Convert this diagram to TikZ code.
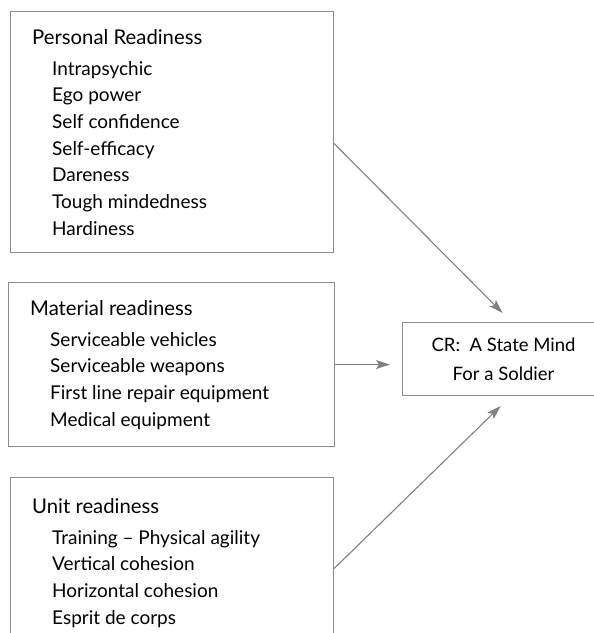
\documentclass[tikz,border=0pt]{standalone}
\usepackage{fontspec}
\setmainfont{Lato}
\usetikzlibrary{arrows.meta, positioning}

\begin{document}
\begin{tikzpicture}[
    x=1pt, y=-1pt,
    every node/.style={text=black},
    box/.style={draw=black!45, line width=1.1pt, anchor=north west, inner sep=0pt},
    head/.style={anchor=base west, inner sep=0pt, font=\fontsize{20.3}{24}\selectfont},
    list/.style={anchor=north west, align=left, inner sep=0pt, font=\fontsize{19}{26.7}\selectfont},
    arr/.style={-{Stealth[length=14pt, width=9pt, inset=3pt]}, draw=black!50, line width=1.1pt},
]
\useasboundingbox (0,0) rectangle (594,633);

% left column
\node[box, minimum width=323pt, minimum height=241pt] (pers) at (10,11)  {};
\node[box, minimum width=326pt, minimum height=164pt] (mat)  at (8,282)  {};
\node[box, minimum width=323pt, minimum height=182pt] (unit) at (10,477) {};

\node[head] (perst) at ([shift={(22,33)}]pers.north west) {Personal Readiness};
\node[list] (persl) at ([shift={(20,17)}]perst.base west)
    {Intrapsychic\\Ego power\\Self confidence\\Self-efficacy\\Dareness\\Tough mindedness\\Hardiness};

\node[head] (matt) at ([shift={(22,33)}]mat.north west) {Material readiness};
\node[list] (matl) at ([shift={(20,17)}]matt.base west)
    {Serviceable vehicles\\Serviceable weapons\\First line repair equipment\\Medical equipment};

\node[head] (unitt) at ([shift={(22,36)}]unit.north west) {Unit readiness};
\node[list] (unitl) at ([shift={(20,17)}]unitt.base west)
    {Training -- Physical agility\\Vertical cohesion\\Horizontal cohesion\\Esprit de corps};

% result
\node[box, minimum width=202pt, minimum height=73pt, align=center,
      font=\fontsize{18.5}{29}\selectfont] (cr) at (402,322) {CR:\ \ A State Mind\\For a Soldier};

\draw[arr] ([yshift=-11.5pt]pers.east) -- ([shift={(-1,-9)}]cr.north);
\draw[arr] (mat.east) -- ([xshift=-12pt]mat.east -| cr.west);
\draw[arr] (unit.east) -- ([shift={(-3,10)}]cr.south);
\end{tikzpicture}
\end{document}
